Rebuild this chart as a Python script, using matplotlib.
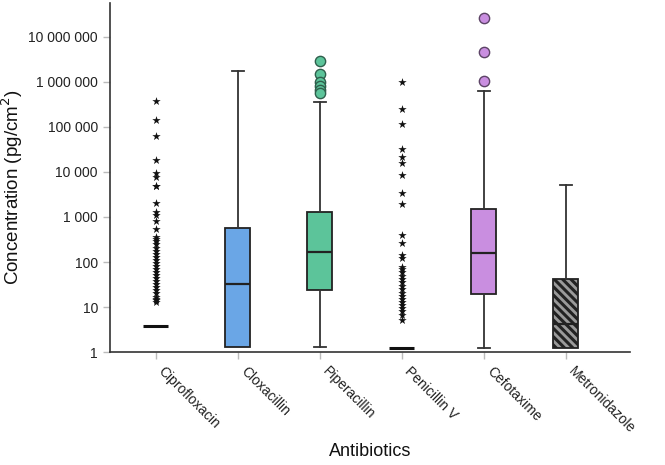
import matplotlib.pyplot as plt
import numpy as np

plt.rcParams["font.family"] = ["Liberation Sans", "DejaVu Sans"]
plt.rcParams["hatch.linewidth"] = 2.2

# ============================================================
# DATI
# ============================================================

antibiotics = ["Ciprofloxacin", "Cloxacillin", "Piperacillin",
               "Penicillin V", "Cefotaxime", "Metronidazole"]

medians = [3.8, 32, 167, 1.23, 155, 4.2]
q1 = [3.8, 1.3, 23.6, 1.23, 19.5, 1.23]
q3 = [3.8, 570, 1270, 1.23, 1490, 42]
whisker_low = [3.8, 1.3, 1.3, 1.23, 1.23, 1.23]
whisker_high = [3.8, 1750000, 357000, 1.23, 630000, 5100]

cipro_stars = [380000, 144000, 63000, 18600, 9500, 7900, 5000, 4800,
               2050, 1260, 1130, 830, 540, 360, 330, 290, 250, 210, 180,
               150, 130, 110, 95, 80, 70, 60, 52, 45, 38, 33, 28, 24, 20,
               17, 15, 14, 13]
penicillin_stars = [1000000, 250000, 115000, 33000, 21000, 16000, 8500,
                    3500, 1900, 400, 260, 142, 121, 78, 70, 60, 50, 42, 36,
                    30, 25, 21, 18, 15, 13, 11, 9.5, 8, 6.5, 5.2]
piperacillin_circles = [3000000, 1490000, 1000000, 810000, 660000, 570000]
cefotaxime_circles = [26000000, 4600000, 1050000]

box_colors = ["#ffffff", "#6aa6e6", "#5cc49a", "#ffffff", "#c98ee0", "#9a9a9a"]

y_ticks = [1, 10, 100, 1000, 10000, 100000, 1000000, 10000000]

# ============================================================
# GRAFICO
# ============================================================

fig = plt.figure(figsize=(6.65, 4.65), dpi=100)
ax = fig.add_axes([0.165, 0.243, 0.782, 0.751])

stats = []
for i, name in enumerate(antibiotics):
    stats.append({
        "label": name,
        "med": medians[i],
        "q1": q1[i],
        "q3": q3[i],
        "whislo": whisker_low[i],
        "whishi": whisker_high[i],
        "fliers": [],
    })

positions = np.arange(len(antibiotics))

result = ax.bxp(
    stats,
    positions=positions,
    widths=0.3,
    patch_artist=True,
    showfliers=False,
    boxprops=dict(edgecolor="#222222", linewidth=1.3),
    whiskerprops=dict(color="#333333", linewidth=1.3),
    capprops=dict(color="#333333", linewidth=1.3),
    medianprops=dict(color="#222222", linewidth=1.6),
    capwidths=0.15,
)

for i, patch in enumerate(result["boxes"]):
    patch.set_facecolor(box_colors[i])

result["boxes"][5].set_hatch("\\\\\\\\")

# box "collassati": solo la linea della mediana
for i in [0, 3]:
    result["boxes"][i].set_visible(False)
    result["medians"][i].set_linewidth(2.2)
    result["medians"][i].set_color("#111111")
    for artist in result["whiskers"][2 * i:2 * i + 2]:
        artist.set_visible(False)
    for artist in result["caps"][2 * i:2 * i + 2]:
        artist.set_visible(False)

for i in [1, 5]:
    for artist in result["caps"][2 * i:2 * i + 1]:
        artist.set_visible(False)

ax.scatter([0] * len(cipro_stars), cipro_stars, marker="*", s=40,
           color="#111111", zorder=3, linewidths=0)
ax.scatter([3] * len(penicillin_stars), penicillin_stars, marker="*", s=40,
           color="#111111", zorder=3, linewidths=0)
ax.scatter([2] * len(piperacillin_circles), piperacillin_circles,
           marker="o", s=55, facecolor="#5cc49a", edgecolor="#2f5f4c",
           linewidths=1, zorder=3)
ax.scatter([4] * len(cefotaxime_circles), cefotaxime_circles,
           marker="o", s=55, facecolor="#c98ee0", edgecolor="#5c4366",
           linewidths=1, zorder=3)

ax.set_yscale("log")
ax.set_ylim(1, 10 ** 7.76)
ax.set_xlim(-0.56, 5.78)

ax.set_yticks(y_ticks)
ax.set_yticklabels([f"{v:,}".replace(",", " ") for v in y_ticks])
ax.yaxis.set_minor_locator(plt.NullLocator())

ax.set_xticks(positions)
ax.set_xticklabels(antibiotics, rotation=-45, ha="left", va="top")

ax.tick_params(axis="both", labelsize=10, colors="#bbbbbb",
               labelcolor="#222222", length=5, width=1)
ax.tick_params(axis="x", pad=4)

for side in ["top", "right"]:
    ax.spines[side].set_visible(False)
for side in ["left", "bottom"]:
    ax.spines[side].set_color("#333333")
    ax.spines[side].set_linewidth(1.2)

ax.set_ylabel("Concentration (pg/cm$^2$)", fontsize=13.5, color="#111111")
ax.yaxis.set_label_coords(-0.162, 0.473)
ax.set_xlabel("Antibiotics", fontsize=13, color="#111111", labelpad=5)

fig.savefig("out.png", dpi=100)
